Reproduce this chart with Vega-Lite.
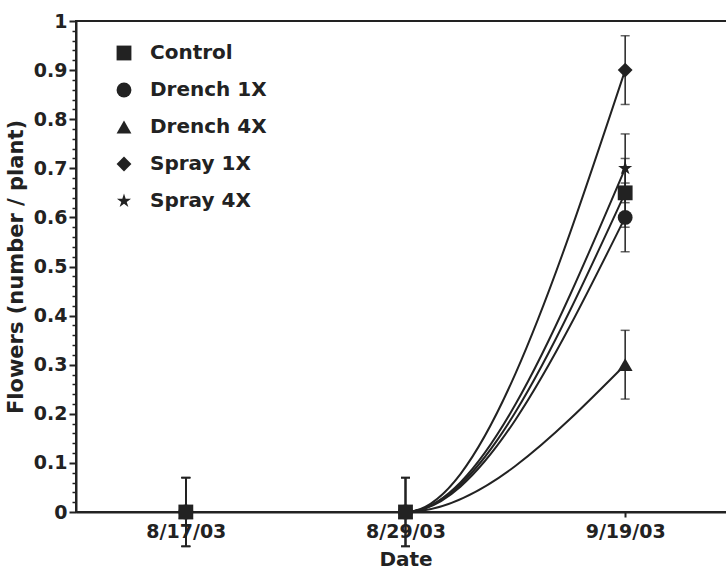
{
  "$schema": "https://vega.github.io/schema/vega-lite/v6.json",
  "width": 659,
  "height": 491,
  "autosize": "none",
  "padding": {"left": 76, "top": 21, "right": 0, "bottom": 57},
  "background": "white",
  "config": {"view": {"stroke": "#222", "strokeWidth": 2}, "font": "DejaVu Sans"},
  "data": {"values": [
    {"series": "Drench 1X", "date": "8/17/03", "mean": 0, "lo": -0.07, "hi": 0.07},
    {"series": "Drench 1X", "date": "8/29/03", "mean": 0, "lo": -0.07, "hi": 0.07},
    {"series": "Drench 1X", "date": "9/19/03", "mean": 0.60, "lo": 0.53, "hi": 0.67},
    {"series": "Drench 4X", "date": "8/17/03", "mean": 0, "lo": -0.07, "hi": 0.07},
    {"series": "Drench 4X", "date": "8/29/03", "mean": 0, "lo": -0.07, "hi": 0.07},
    {"series": "Drench 4X", "date": "9/19/03", "mean": 0.30, "lo": 0.23, "hi": 0.37},
    {"series": "Spray 1X", "date": "8/17/03", "mean": 0, "lo": -0.07, "hi": 0.07},
    {"series": "Spray 1X", "date": "8/29/03", "mean": 0, "lo": -0.07, "hi": 0.07},
    {"series": "Spray 1X", "date": "9/19/03", "mean": 0.90, "lo": 0.83, "hi": 0.97},
    {"series": "Spray 4X", "date": "8/17/03", "mean": 0, "lo": -0.07, "hi": 0.07},
    {"series": "Spray 4X", "date": "8/29/03", "mean": 0, "lo": -0.07, "hi": 0.07},
    {"series": "Spray 4X", "date": "9/19/03", "mean": 0.70, "lo": 0.63, "hi": 0.77},
    {"series": "Control", "date": "8/17/03", "mean": 0, "lo": -0.07, "hi": 0.07},
    {"series": "Control", "date": "8/29/03", "mean": 0, "lo": -0.07, "hi": 0.07},
    {"series": "Control", "date": "9/19/03", "mean": 0.65, "lo": 0.58, "hi": 0.72}
  ]},
  "encoding": {
    "x": {
      "field": "date", "type": "ordinal",
      "sort": ["8/17/03", "8/29/03", "9/19/03"],
      "scale": {"type": "point", "padding": 0.5},
      "axis": {
        "title": "Date", "labelAngle": 0,
        "labelFont": "DejaVu Sans", "labelFontSize": 19, "labelFontWeight": "bold", "labelColor": "#222",
        "titleFont": "DejaVu Sans", "titleFontSize": 20, "titleFontWeight": "bold", "titleColor": "#222",
        "tickSize": 5, "tickWidth": 2, "tickColor": "#222", "domainWidth": 2, "domainColor": "#222",
        "labelPadding": 5, "titlePadding": 8, "grid": false
      }
    }
  },
  "resolve": {"axis": {"y": "independent"}},
  "layer": [
    {
      "mark": {"type": "rule", "color": "#222", "strokeWidth": 1.5},
      "encoding": {
        "y": {"field": "lo", "type": "quantitative", "scale": {"domain": [0, 1], "nice": false},
          "axis": {"orient": "left", "values": [0.02,0.04,0.06,0.08,0.12,0.14,0.16,0.18,0.22,0.24,0.26,0.28,0.32,0.34,0.36,0.38,0.42,0.44,0.46,0.48,0.52,0.54,0.56,0.58,0.62,0.64,0.66,0.68,0.72,0.74,0.76,0.78,0.82,0.84,0.86,0.88,0.92,0.94,0.96,0.98],
            "labels": false, "title": null, "domain": false, "grid": false, "tickSize": 4, "tickWidth": 1.5, "tickColor": "#222"}},
        "y2": {"field": "hi"}
      }
    },
    {
      "mark": {"type": "tick", "color": "#222", "size": 9, "thickness": 1.5},
      "encoding": {"y": {"field": "lo", "type": "quantitative", "scale": {"domain": [0, 1], "nice": false}, "axis": null}}
    },
    {
      "mark": {"type": "tick", "color": "#222", "size": 9, "thickness": 1.5},
      "encoding": {"y": {"field": "hi", "type": "quantitative", "scale": {"domain": [0, 1], "nice": false}, "axis": null}}
    },
    {
      "mark": {"type": "line", "color": "#222", "strokeWidth": 2, "interpolate": "monotone"},
      "encoding": {
        "y": {"field": "mean", "type": "quantitative", "scale": {"domain": [0, 1], "nice": false}, "axis": null},
        "detail": {"field": "series"}
      }
    },
    {
      "mark": {"type": "point", "filled": true, "color": "#222", "opacity": 1, "size": 220},
      "encoding": {
        "y": {"field": "mean", "type": "quantitative", "scale": {"domain": [0, 1], "nice": false},
          "axis": {"orient": "left", "values": [0,0.1,0.2,0.3,0.4,0.5,0.6,0.7,0.8,0.9,1], "format": "~g",
            "title": "Flowers (number / plant)", "titleX": -50,
            "labelFont": "DejaVu Sans", "labelFontSize": 19, "labelFontWeight": "bold", "labelColor": "#222",
            "titleFont": "DejaVu Sans", "titleFontSize": 21, "titleFontWeight": "bold", "titleColor": "#222",
            "tickSize": 7, "tickWidth": 2, "tickColor": "#222", "domainWidth": 2, "domainColor": "#222",
            "labelPadding": 2, "grid": false}},
        "shape": {
          "field": "series", "type": "nominal",
          "scale": {
            "domain": ["Control", "Drench 1X", "Drench 4X", "Spray 1X", "Spray 4X"],
            "range": ["square", "circle", "triangle-up", "diamond", "M0,-1L0.2245,-0.309L0.951,-0.309L0.363,0.118L0.588,0.809L0,0.382L-0.588,0.809L-0.363,0.118L-0.951,-0.309L-0.2245,-0.309Z"]
          },
          "legend": {
            "orient": "none", "legendX": 38, "legendY": 22, "title": null, "padding": 0,
            "labelFont": "DejaVu Sans", "labelFontSize": 20, "labelFontWeight": "bold", "labelColor": "#222",
            "symbolSize": 220, "symbolFillColor": "#222", "symbolStrokeWidth": 0, "symbolOpacity": 1,
            "rowPadding": 17, "labelOffset": 16
          }
        }
      }
    }
  ]
}
